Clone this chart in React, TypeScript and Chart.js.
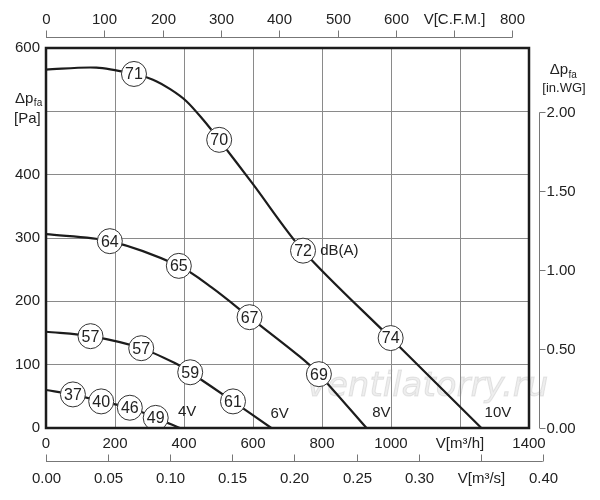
import React, { useEffect, useRef } from 'react';
import { Chart, registerables } from 'chart.js';

Chart.register(...registerables);

// ---- Data (flow in m3/h, pressure in Pa) ----
const flow10V = [0, 146, 255, 310, 360, 407, 455, 502, 600, 745, 999, 1262];
const pres10V = [566, 569, 559, 550, 535, 516, 487, 455, 385, 280, 142, 0];
const flow8V = [0, 185, 385, 480, 590, 735, 791, 929];
const pres8V = [306, 295, 256, 222, 175, 113, 85, 0];
const flow6V = [0, 129, 276, 383, 418, 542, 653];
const pres6V = [152, 145, 126, 100, 88, 42, 0];
const flow4V = [0, 78, 160, 243, 318, 388];
const pres4V = [60, 53, 42, 32, 16, 0];

// dB(A) markers
const dbFlow10V = [255, 502, 745, 999];
const dbPres10V = [559, 455, 280, 142];
const dbVal10V = ['71', '70', '72', '74'];
const dbFlow8V = [185, 385, 590, 791];
const dbPres8V = [295, 256, 175, 85];
const dbVal8V = ['64', '65', '67', '69'];
const dbFlow6V = [129, 276, 418, 542];
const dbPres6V = [145, 126, 88, 42];
const dbVal6V = ['57', '57', '59', '61'];
const dbFlow4V = [78, 160, 243, 318];
const dbPres4V = [53, 42, 32, 16];
const dbVal4V = ['37', '40', '46', '49'];

// curve labels
const curveNames = ['4V', '6V', '8V', '10V'];
const curveNameFlow = [409, 677, 972, 1310];
const curveNamePres = [26, 22, 24, 24];

// axis ticks
const xTicks = [0, 200, 400, 600, 800, 1000, 1200, 1400];
const xTickLabels = ['0', '200', '400', '600', '800', '1000', 'V[m³/h]', '1400'];
const yTicks = [0, 100, 200, 300, 400, 500, 600];
const yTickLabels = ['0', '100', '200', '300', '400', '', '600'];
const cfmTicks = [0, 100, 200, 300, 400, 500, 600, 700, 800];
const cfmLabels = ['0', '100', '200', '300', '400', '500', '600', 'V[C.F.M.]', '800'];
const m3sTicks = [0, 0.05, 0.1, 0.15, 0.2, 0.25, 0.3, 0.35, 0.4];
const m3sLabels = ['0.00', '0.05', '0.10', '0.15', '0.20', '0.25', '0.30', 'V[m³/s]', '0.40'];
const inwgTicks = [0, 0.5, 1, 1.5, 2];
const inwgLabels = ['0.00', '0.50', '1.00', '1.50', '2.00'];

const CFM_TO_M3H = 1.69;
const M3S_TO_M3H = 3600;
const INWG_TO_PA = 249.09;

const FONT = "'Liberation Sans', Arial, sans-serif";
const TEXT = '#222222';
const LINE = '#1c1c1c';

const zip = (xs: number[], ys: number[]) => xs.map((x, i) => ({ x, y: ys[i] }));

const markerSets = [
  { f: dbFlow10V, p: dbPres10V, t: dbVal10V },
  { f: dbFlow8V, p: dbPres8V, t: dbVal8V },
  { f: dbFlow6V, p: dbPres6V, t: dbVal6V },
  { f: dbFlow4V, p: dbPres4V, t: dbVal4V },
];

const decorPlugin = {
  id: 'decor',
  beforeDatasetsDraw(chart: any) {
    const { ctx, scales } = chart;
    const x = scales.x, y = scales.y;
    ctx.save();
    ctx.font = `italic 34px 'DejaVu Sans', sans-serif`;
    ctx.fillStyle = 'rgba(150,150,150,0.16)';
    ctx.strokeStyle = 'rgba(150,150,150,0.22)';
    ctx.lineWidth = 1;
    ctx.textAlign = 'center';
    ctx.textBaseline = 'middle';
    const wx = x.getPixelForValue(1106), wy = y.getPixelForValue(64);
    ctx.fillText('ventilatorry.ru', wx, wy);
    ctx.strokeText('ventilatorry.ru', wx, wy);
    ctx.restore();
  },
  afterDatasetsDraw(chart: any) {
    const { ctx, scales } = chart;
    const x = scales.x, y = scales.y;
    ctx.save();
    ctx.fillStyle = TEXT;
    ctx.font = `16px ${FONT}`;
    ctx.textAlign = 'center';
    ctx.textBaseline = 'middle';
    markerSets.forEach((s) => {
      s.f.forEach((fv, i) => {
        ctx.fillText(s.t[i], x.getPixelForValue(fv), y.getPixelForValue(s.p[i]) + 1);
      });
    });
    ctx.font = `15px ${FONT}`;
    curveNames.forEach((n, i) => {
      ctx.fillText(n, x.getPixelForValue(curveNameFlow[i]), y.getPixelForValue(curveNamePres[i]));
    });
    ctx.textAlign = 'left';
    ctx.fillText('dB(A)', x.getPixelForValue(795), y.getPixelForValue(279));
    ctx.restore();
  },
  afterDraw(chart: any) {
    const { ctx, chartArea, scales } = chart;
    const x = scales.x, y = scales.y;
    const { left, right, top, bottom } = chartArea;
    ctx.save();
    ctx.strokeStyle = LINE;
    ctx.lineWidth = 2.5;
    ctx.strokeRect(left, top, right - left, bottom - top);

    ctx.strokeStyle = '#777777';
    ctx.lineWidth = 1;
    ctx.fillStyle = TEXT;
    ctx.font = `15px ${FONT}`;

    // top CFM axis
    const ty = top - 10.5;
    ctx.beginPath();
    ctx.moveTo(x.getPixelForValue(cfmTicks[0] * CFM_TO_M3H), ty);
    ctx.lineTo(x.getPixelForValue(cfmTicks[cfmTicks.length - 1] * CFM_TO_M3H), ty);
    ctx.stroke();
    ctx.textAlign = 'center';
    ctx.textBaseline = 'middle';
    cfmTicks.forEach((v, i) => {
      const px = Math.round(x.getPixelForValue(v * CFM_TO_M3H)) + 0.5;
      ctx.beginPath();
      ctx.moveTo(px, ty);
      ctx.lineTo(px, ty - 7);
      ctx.stroke();
      ctx.fillText(cfmLabels[i], px, ty - 18);
    });

    // bottom m3/s axis
    const by = bottom + 33.5;
    ctx.beginPath();
    ctx.moveTo(x.getPixelForValue(m3sTicks[0] * M3S_TO_M3H), by);
    ctx.lineTo(x.getPixelForValue(m3sTicks[m3sTicks.length - 1] * M3S_TO_M3H), by);
    ctx.stroke();
    m3sTicks.forEach((v, i) => {
      const px = Math.round(x.getPixelForValue(v * M3S_TO_M3H)) + 0.5;
      ctx.beginPath();
      ctx.moveTo(px, by);
      ctx.lineTo(px, by - 7);
      ctx.stroke();
      ctx.fillText(m3sLabels[i], px, by + 17);
    });

    // right in.WG axis
    const rx = right + 10.5;
    ctx.beginPath();
    ctx.moveTo(rx, y.getPixelForValue(inwgTicks[0] * INWG_TO_PA));
    ctx.lineTo(rx, y.getPixelForValue(inwgTicks[inwgTicks.length - 1] * INWG_TO_PA));
    ctx.stroke();
    ctx.textAlign = 'left';
    inwgTicks.forEach((v, i) => {
      const py = Math.round(y.getPixelForValue(v * INWG_TO_PA)) + 0.5;
      ctx.beginPath();
      ctx.moveTo(rx, py);
      ctx.lineTo(rx + 6, py);
      ctx.stroke();
      ctx.fillText(inwgLabels[i], rx + 7, py);
    });

    // axis titles
    const drawDp = (cxp: number, cy: number, align: 'left' | 'center') => {
      ctx.font = `15px ${FONT}`;
      const w1 = ctx.measureText('Δp').width;
      ctx.font = `10px ${FONT}`;
      const w2 = ctx.measureText('fa').width;
      const start = align === 'center' ? cxp - (w1 + w2) / 2 : cxp;
      ctx.textAlign = 'left';
      ctx.font = `15px ${FONT}`;
      ctx.fillText('Δp', start, cy);
      ctx.font = `10px ${FONT}`;
      ctx.fillText('fa', start + w1 + 0.5, cy + 5);
    };
    ctx.textBaseline = 'middle';
    drawDp(15, y.getPixelForValue(520), 'left');
    ctx.font = `15px ${FONT}`;
    ctx.textAlign = 'left';
    ctx.fillText('[Pa]', 14, y.getPixelForValue(488));

    drawDp(563, 70, 'center');
    ctx.font = `13px ${FONT}`;
    ctx.textAlign = 'center';
    ctx.fillText('[in.WG]', 564, 88);
    ctx.restore();
  },
};

export default function App() {
  const ref = useRef<HTMLCanvasElement | null>(null);
  useEffect(() => {
    if (!ref.current) return;
    const lineDs = (data: { x: number; y: number }[]) => ({
      type: 'line' as const,
      data,
      borderColor: LINE,
      borderWidth: 2.2,
      pointRadius: 0,
      fill: false,
      tension: 0.3,
      order: 2,
    });
    const markerDs = (f: number[], p: number[]) => ({
      type: 'scatter' as const,
      data: zip(f, p),
      pointRadius: 12.5,
      pointBackgroundColor: '#ffffff',
      pointBorderColor: '#333333',
      pointBorderWidth: 1,
      showLine: false,
      order: 1,
    });
    const chart = new Chart(ref.current, {
      type: 'line',
      data: {
        datasets: [
          markerDs(dbFlow10V, dbPres10V),
          markerDs(dbFlow8V, dbPres8V),
          markerDs(dbFlow6V, dbPres6V),
          markerDs(dbFlow4V, dbPres4V),
          lineDs(zip(flow10V, pres10V)),
          lineDs(zip(flow8V, pres8V)),
          lineDs(zip(flow6V, pres6V)),
          lineDs(zip(flow4V, pres4V)),
        ] as any,
      },
      options: {
        animation: false,
        responsive: true,
        maintainAspectRatio: false,
        layout: { padding: { left: 0, right: 71, top: 48, bottom: 0 } },
        plugins: { legend: { display: false }, tooltip: { enabled: false } },
        events: [],
        scales: {
          x: {
            type: 'linear',
            min: 0,
            max: 1400,
            afterFit: (s: any) => { s.height = 72; },
            afterBuildTicks: (s: any) => { s.ticks = xTicks.map((v) => ({ value: v })); },
            grid: { color: '#8a8a8a', lineWidth: 1, drawTicks: false },
            border: { display: false },
            ticks: {
              padding: 7,
              color: TEXT,
              maxRotation: 0,
              autoSkip: false,
              font: { family: FONT, size: 15 },
              callback: (v: any) => xTickLabels[xTicks.indexOf(Number(v))] ?? '',
            },
          },
          y: {
            type: 'linear',
            min: 0,
            max: 600,
            afterFit: (s: any) => { s.width = 46; },
            afterBuildTicks: (s: any) => { s.ticks = yTicks.map((v) => ({ value: v })); },
            grid: { color: '#8a8a8a', lineWidth: 1, drawTicks: false },
            border: { display: false },
            ticks: {
              padding: 6,
              color: TEXT,
              autoSkip: false,
              font: { family: FONT, size: 15 },
              callback: (v: any) => yTickLabels[yTicks.indexOf(Number(v))] ?? '',
            },
          },
        },
      } as any,
      plugins: [decorPlugin],
    });
    return () => chart.destroy();
  }, []);
  return (
    <div style={{ position: 'fixed', left: 0, top: 0, width: 600, height: 500, background: '#fff' }}>
      <canvas ref={ref} />
    </div>
  );
}
